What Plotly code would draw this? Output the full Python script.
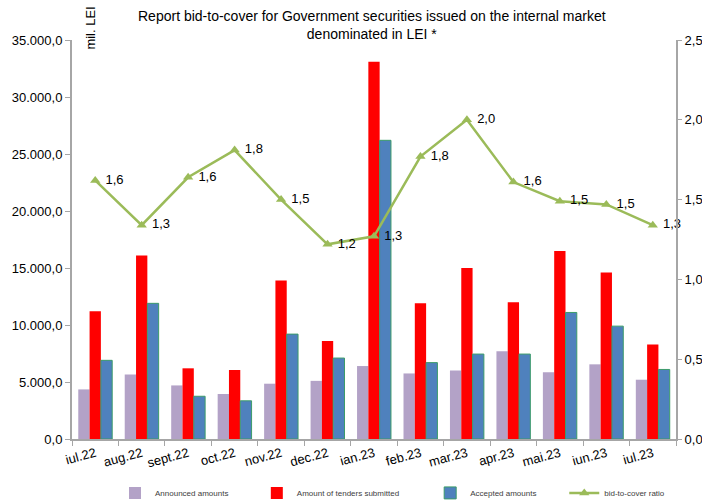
import plotly.graph_objects as go

months = ["iul.22", "aug.22", "sept.22", "oct.22", "nov.22", "dec.22", "ian.23",
          "feb.23", "mar.23", "apr.23", "mai.23", "iun.23", "iul.23"]
announced = [4350, 5650, 4700, 3950, 4850, 5100, 6400, 5750, 6000, 7700, 5850, 6550, 5200]
tenders = [11200, 16100, 6200, 6050, 13900, 8600, 33100, 11900, 15000, 12000, 16500, 14600, 8300]
accepted = [6900, 11900, 3750, 3350, 9200, 7100, 26200, 6700, 7450, 7450, 11100, 9900, 6100]
ratio = [1.62, 1.34, 1.64, 1.81, 1.50, 1.22, 1.27, 1.77, 2.00, 1.61, 1.49, 1.47, 1.34]

fig = go.Figure()
fig.add_trace(go.Bar(x=months, y=announced, name="Announced amounts", showlegend=True,
                     marker=dict(color="#B3A2C7", line=dict(width=0)), legend="legend"))
fig.add_trace(go.Bar(x=months, y=tenders, name="Amount of tenders submitted",
                     marker=dict(color="#FF0000", line=dict(width=0)), legend="legend2"))
fig.add_trace(go.Bar(x=months, y=accepted, name="Accepted amounts",
                     marker=dict(color="#4F81BD", line=dict(width=1, color="#3C9B6A")), legend="legend3"))
fig.add_trace(go.Scatter(x=months, y=ratio, name="bid-to-cover ratio", yaxis="y2",
                         mode="lines+markers+text", cliponaxis=False,
                         line=dict(color="#9BBB59", width=2.5),
                         marker=dict(symbol="triangle-up", size=9, color="#9BBB59"),
                         texttemplate="\u00a0%{y:.1f}", textposition="middle right",
                         textfont=dict(size=13, color="#000000"), legend="legend4"))

axis_line = "#A6A6A6"
legend_common = dict(orientation="h", yref="container", y=0.022, yanchor="middle",
                     xanchor="left", bgcolor="rgba(0,0,0,0)", itemwidth=30,
                     font=dict(size=8, color="#404040", family="Liberation Sans, Arial"))

fig.update_layout(
    width=702, height=504,
    showlegend=True,
    margin=dict(l=72, r=26, t=40, b=65, autoexpand=False),
    paper_bgcolor="white", plot_bgcolor="white",
    separators=",.",
    font=dict(family="Liberation Sans, Arial", size=13, color="#000000"),
    barmode="group", bargap=0.27, bargroupgap=0,
    xaxis=dict(range=[-0.5, len(months) - 0.5], showline=True, linecolor=axis_line,
               linewidth=2, ticks="outside",
               tickson="boundaries", tickcolor=axis_line, ticklen=5, tickangle=-15,
               showgrid=False, tickfont=dict(size=13), automargin=False),
    yaxis=dict(range=[0, 35000], dtick=5000, tickformat=",.1f", showline=True,
               linecolor=axis_line, linewidth=2, ticks="outside", tickcolor=axis_line,
               ticklen=5, showgrid=False, zeroline=False, tickfont=dict(size=13),
               automargin=False),
    yaxis2=dict(range=[0, 2.5], dtick=0.5, tickformat=".1f", overlaying="y", side="right",
                showline=True, linecolor=axis_line, linewidth=2, ticks="outside",
                tickcolor=axis_line, ticklen=4, showgrid=False, zeroline=False,
                tickfont=dict(size=13), automargin=False),
    legend=dict(x=0.0712, xref="paper", **legend_common),
    legend2=dict(x=0.306, xref="paper", **legend_common),
    legend3=dict(x=0.593, xref="paper", **legend_common),
    legend4=dict(x=0.815, xref="paper", **legend_common),
    annotations=[
        dict(text="Report bid-to-cover for Government securities issued on the internal market<br>denominated in LEI *",
             xref="paper", yref="paper", x=0.497, y=1.0, xanchor="center", yanchor="bottom",
             yshift=-4, showarrow=False, font=dict(size=14, color="#000000")),
        dict(text="mil. LEI", textangle=-90, xref="paper", yref="paper",
             x=0.03, y=1.0, xanchor="center", yanchor="bottom",
             showarrow=False, font=dict(size=13, color="#000000"), yshift=-12)],
)

fig.write_html("out.html", config={"displayModeBar": False},
               post_script="document.body.style.margin='0px';document.body.style.overflow='hidden';")
